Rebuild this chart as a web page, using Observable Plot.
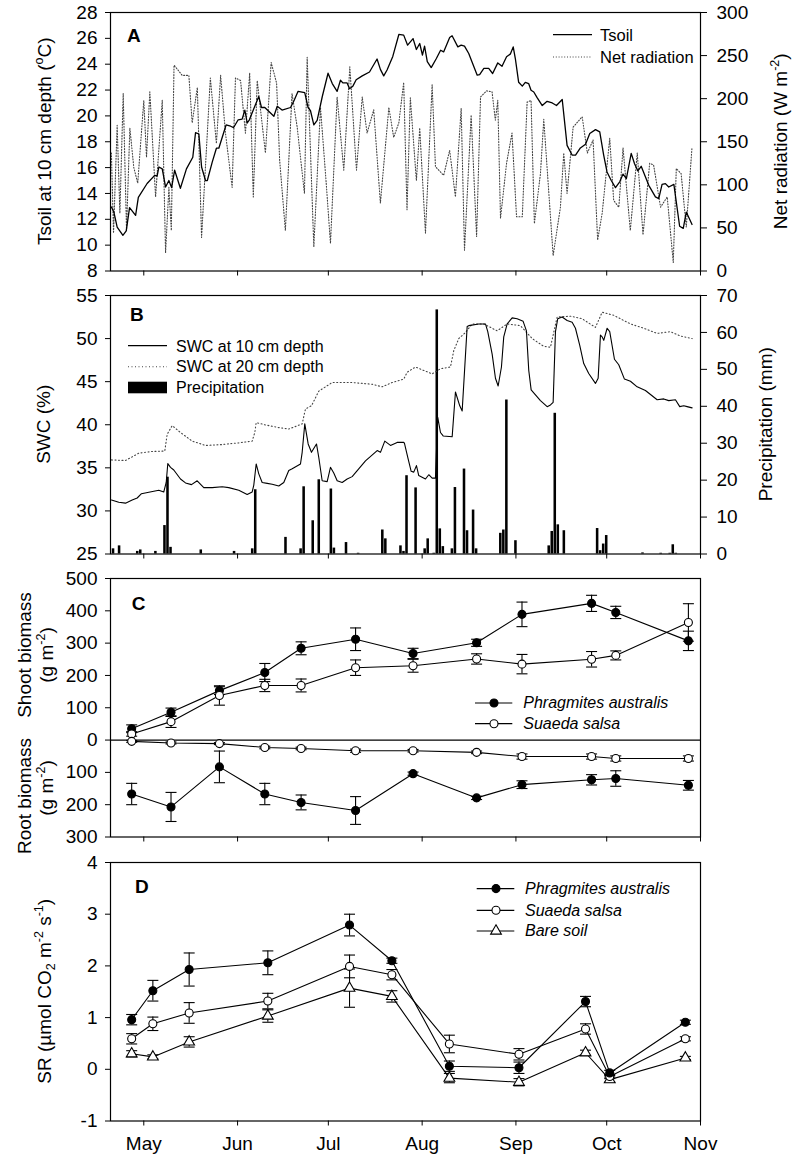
<!DOCTYPE html>
<html><head><meta charset="utf-8">
<script src="https://cdn.jsdelivr.net/npm/d3@7"></script>
<script src="https://cdn.jsdelivr.net/npm/@observablehq/plot@0.6"></script>
<style>
body{margin:0;background:#fff;}
#chart{position:relative;width:795px;height:1160px;background:#fff;}
</style></head><body><div id="chart"></div>
<script>
// ---------- DATA (day of year 2011) ----------
const tsoilDay = [110.3,111.1,112.2,114.1,115.2,116.3,118.3,119.2,122.1,124.6,125.4,126.0,127.1,128.2,129.3,130.2,131.2,133.1,135.1,137.2,138.1,139.2,140.1,141.4,142.0,143.6,145.0,145.8,148.2,149.7,150.7,152.2,153.5,154.4,155.2,155.9,159.0,159.9,161.0,164.0,165.1,166.7,169.5,170.6,172.0,174.2,175.3,176.1,177.2,178.3,180.0,181.9,183.3,184.9,186.0,186.8,188.2,189.0,190.1,191.2,193.2,195.6,198.1,199.2,200.3,201.4,203.3,205.3,206.9,208.2,210.0,211.1,212.2,213.1,213.8,214.7,216.0,217.7,219.1,220.1,222.1,222.9,224.8,225.9,227.0,228.4,231.2,232.0,233.4,235.0,236.3,238.0,239.4,240.9,242.2,243.1,243.8,244.9,246.1,247.1,248.2,249.0,249.9,251.0,252.7,254.3,256.0,257.4,259.3,260.9,262.6,263.7,265.3,267.0,268.4,270.3,271.7,273.0,274.1,275.5,276.9,278.3,279.4,280.5,282.1,283.2,284.3,285.4,287.9,290.1,291.2,292.3,293.4,294.5,296.2,298.1,299.3,300.3,302.2];
const tsoilVal = [12.95,12.57,11.4,10.76,11.1,12.9,12.3,13.7,14.77,15.4,15.35,16.05,15.9,14.5,15.0,14.45,15.8,14.4,15.9,16.8,18.7,18.6,16.05,15.0,15.0,16.4,17.5,17.5,19.3,19.2,19.1,19.7,19.75,20.45,19.45,19.7,21.5,20.65,20.65,19.97,20.75,20.45,20.65,21.15,21.9,21.8,20.65,20.4,19.3,19.66,21.5,23.3,22.5,21.9,22.76,22.55,22.55,22.1,22.3,22.8,23.1,23.4,24.4,23.6,23.1,23.55,24.6,26.3,26.25,25.47,25.98,25.14,25.6,24.7,25.4,24.2,23.74,24.44,25.08,24.95,26.07,26.2,25.34,25.47,25.4,24.83,23.15,23.2,23.67,23.67,23.28,24.1,23.84,24.57,24.8,25.34,24.44,22.6,22.3,22.6,22.5,21.98,21.85,21.42,20.8,21.13,21.0,20.8,21.27,17.72,16.96,16.96,17.52,17.8,18.64,18.94,18.76,16.96,15.66,15.0,14.45,14.9,15.5,15.15,17.1,16.3,15.74,16.1,14.63,13.73,13.6,14.7,14.76,14.5,14.7,11.46,11.3,12.56,11.6];

const netDay = [110.3,111.0,112.2,113.1,114.2,115.3,116.4,117.7,119.0,121.0,121.9,123.0,124.9,127.1,128.2,129.3,130.1,131.0,133.7,135.9,137.0,138.7,140.1,143.0,145.0,146.4,148.0,150.2,151.3,153.0,154.6,156.0,157.2,158.5,161.2,163.1,164.9,165.9,167.8,170.0,171.7,174.1,175.0,177.2,179.4,181.4,182.7,184.9,187.1,189.1,191.3,193.2,194.8,197.0,199.2,202.0,203.6,205.3,206.9,208.0,209.1,211.1,212.2,214.1,216.3,217.4,220.1,222.1,224.0,225.9,227.0,229.2,231.0,232.3,234.3,236.1,237.2,238.0,238.9,240.9,242.7,244.2,246.1,247.7,249.0,250.1,252.1,253.2,256.3,258.7,259.8,260.9,262.9,265.9,267.6,269.5,271.0,272.5,275.0,276.3,278.0,279.4,281.8,284.1,286.0,288.2,289.5,291.8,294.0,296.0,297.0,298.6,300.3,302.2];
const netVal = [137,44,169,67,206,47,166,120,102,198,132,208,86,198,21,97,47,239,227,227,172,213,39,224,148,227,160,97,224,221,160,230,86,221,137,242,218,129,47,206,167,90,248,28,190,97,32,202,117,237,117,202,160,187,79,190,155,172,219,71,201,105,166,44,216,121,111,140,86,189,24,181,40,202,209,208,175,198,61,125,160,63,63,196,198,55,113,176,18,74,137,90,167,179,137,152,36,67,154,82,74,143,47,137,42,125,123,74,86,10,119,113,51,144];

const swc10Day = [110.33,112.74,114.96,117.17,118.82,120.24,122.66,125.96,127.61,128.41,128.94,129.83,130.92,133.13,134.79,136.77,138.65,140.83,143.61,146.91,149.09,152.4,155.18,156.83,157.36,158.15,159.01,160.13,161.79,163.44,165.62,167.27,168.92,170.05,172.79,173.35,174.21,175.33,176.42,178.08,178.84,179.96,181.61,182.7,183.79,184.92,186.57,188.22,189.87,194.27,198.14,199.23,200.65,202.53,204.74,206.93,207.16,208.25,209.37,210.23,211.12,211.88,214.1,215.19,216.31,217.4,218.16,219.06,219.95,222.92,224.01,225.43,226.23,227.88,228.41,231.71,233.93,234.69,236.14,237.23,238.12,239.21,239.97,241.1,242.75,244.4,246.38,247.47,248.24,249.03,252.1,254.32,255.41,256.3,257.06,257.82,259.27,260.92,262.58,263.67,265.09,266.41,268.06,270.28,271.17,271.93,272.49,273.02,274.14,275.0,276.56,277.98,279.86,281.85,284.06,286.8,290.67,292.85,294.5,296.72,298.14,299.46,300.58,302.23];
const swc10Val = [31.27,31.0,30.9,31.27,31.5,32.0,32.17,32.4,32.2,33.3,35.5,35.06,34.75,33.7,33.25,33.05,33.5,32.7,32.7,32.8,32.7,32.4,31.9,32.2,33.0,35.45,34.3,33.3,33.2,33.1,32.9,33.3,34.7,34.9,35.45,36.8,40.1,37.77,36.8,37.77,36.2,33.5,33.4,35.06,34.4,33.5,33.3,33.7,33.98,35.8,37.0,36.8,38.1,37.6,37.95,37.95,37.84,36.2,34.6,34.5,35.26,34.1,33.7,34.2,33.8,33.8,40.86,39.1,38.7,38.6,43.8,42.2,41.6,51.4,51.5,51.7,51.7,50.8,48.2,45.4,44.5,46.7,50.2,51.7,52.4,52.3,52.0,50.9,46.3,44.05,42.8,42.1,42.3,42.6,50.8,52.3,52.5,52.1,51.9,51.2,49.2,47.1,45.95,44.8,45.4,50.4,50.2,49.8,51.2,50.8,47.6,46.96,45.3,45.05,44.4,43.97,42.9,43.0,42.8,42.9,42.1,42.2,42.1,41.96];

const swc20Day = [110.33,114.96,119.35,123.78,127.94,128.74,130.39,133.13,137.0,141.39,146.91,152.4,156.83,157.69,158.15,161.22,165.62,168.92,173.35,174.44,176.42,178.84,183.27,189.87,196.48,199.79,203.09,206.93,208.05,210.79,213.54,216.31,219.06,222.36,223.45,225.1,227.32,229.53,233.37,237.79,241.1,245.49,249.36,253.19,255.41,257.62,262.02,265.88,270.28,272.49,276.33,281.85,286.24,290.67,295.07,298.37,302.23];
const swc20Val = [35.92,35.85,36.7,36.9,36.95,38.9,39.9,39.1,38.1,37.6,37.7,37.9,38.1,39.1,40.25,39.98,39.67,39.5,40.1,41.84,42.2,43.9,44.9,44.9,44.7,44.4,44.9,45.3,46.1,46.7,46.3,45.9,46.5,46.7,48.6,50.0,50.7,51.7,51.7,50.9,51.7,51.5,50.0,49.1,49.0,52.5,52.6,52.3,51.3,53.06,52.7,51.7,51.2,50.6,50.8,50.3,50.0];

const precipDay = [111,113,119,120,125,128,129,130,140,151,157,158,168,173,174,177,179,183,184,188,192,200,201,206,207,208,211,214,215,217,218,219,220,223,224,227,228,230,231,239,240,241,244,255,256,257,258,260,271,272,273,274,286,292,295,296,297];
const precipVal = [1.4,2.2,0.7,1.1,0.7,7.7,20.8,1.8,1.1,0.7,1.4,17.4,4.5,1.4,18.2,9.0,20.1,17.6,1.6,3.1,0.2,6.5,4.1,2.2,0.7,21.2,17.9,1.4,4.1,0.2,66.1,6.8,2.0,1.4,18.0,23.0,6.3,11.9,1.4,5.6,6.5,41.7,3.6,2.2,6.1,38.1,7.9,6.3,6.9,0.9,2.7,5.0,0.3,0.2,0.2,2.5,0.2];

const bioDay = [117,130,146,161,173,191,210,231,246,269,277,301];
const paShoot = [35,86,153,209,284,312,268,301,389,423,395,307];
const paShootErr = [12,13,12,28,20,35,16,11,38,25,19,30];
const ssShoot = [19,57,138,169,169,224,230,251,235,250,262,364];
const ssShootErr = [7,18,30,19,20,24,20,16,30,24,14,58];
const paRoot = [167,207,83,167,193,218,104,179,138,123,119,140];
const paRootErr = [33,45,49,33,23,43,5,5,12,16,24,15];
const ssRoot = [4,9,11,23,26,33,33,38,51,51,57,57];
const ssRootErr = [3,3,3,4,4,5,4,4,8,8,8,8];

const srDay = [117,124,136,162,189,203,222,245,267,275,300];
const paSR = [0.96,1.52,1.93,2.06,2.79,2.10,0.06,0.03,1.31,-0.07,0.91];
const paSRErr = [0.1,0.2,0.32,0.23,0.21,0.05,0.1,0.11,0.1,0.05,0.04];
const ssSR = [0.59,0.88,1.09,1.32,1.99,1.83,0.49,0.29,0.78,-0.14,0.59];
const ssSRErr = [0.1,0.13,0.2,0.15,0.22,0.1,0.17,0.11,0.1,0.04,0.04];
const bareSR = [0.30,0.24,0.53,1.03,1.57,1.41,-0.17,-0.25,0.32,-0.20,0.22];
const bareSRErr = [0.06,0.04,0.1,0.12,0.37,0.11,0.09,0.07,0.05,0.05,0.03];

const tsoilTicks = [8,10,12,14,16,18,20,22,24,26,28];
const netTicks = [0,50,100,150,200,250,300];
const swcTicks = [25,30,35,40,45,50,55];
const precipTicks = [0,10,20,30,40,50,60,70];
const bioTicks = [-300,-200,-100,0,100,200,300,400,500];
const srTicks = [-1,0,1,2,3,4];
const monthLabels = ["May","Jun","Jul","Aug","Sep","Oct","Nov"];

// ---------- helpers ----------
const FONT = '"Liberation Sans", Arial, Helvetica, sans-serif';
const day = d => new Date(Date.UTC(2011, 0, 1) + (d - 1) * 864e5);
const xDomain = [day(110), day(305)];
const monthTicks = d3.utcMonth.range(day(121), day(306));
const W = 795, ML = 110, MR = 95, MT = 12, PH = 258.5;
const tops = [0.3, 283, 566.3, 849.7];
const chart = document.getElementById("chart");
const series = (days, vals, errs) => days.map((d, i) => ({date: day(d), v: vals[i], e: errs ? errs[i] : 0}));
const cap = {draw(ctx) { ctx.moveTo(-5.5, 0); ctx.lineTo(5.5, 0); }};
const plain = d => String(d);

function panel(top, mb, opts) {
  const svg = Plot.plot({
    width: W, height: MT + PH + mb, marginLeft: ML, marginRight: MR, marginTop: MT, marginBottom: mb,
    style: {fontFamily: FONT, fontSize: "19px", background: "none", color: "black", overflow: "visible"},
    ...opts
  });
  svg.style.position = "absolute"; svg.style.top = top + "px"; svg.style.left = "0px";
  chart.appendChild(svg);
  return svg;
}
function txt(svg, x, y, parts, o = {}) {
  const size = o.size || 19;
  const t = d3.select(svg).append("text")
    .attr("font-family", FONT).attr("font-size", size).attr("fill", "black")
    .attr("text-anchor", o.anchor || "middle")
    .attr("font-weight", o.bold ? "bold" : "normal")
    .attr("font-style", o.italic ? "italic" : "normal")
    .attr("transform", `translate(${x},${y})` + (o.rotate ? " rotate(-90)" : ""));
  let shift = 0;
  for (const p of (typeof parts === "string" ? [[parts, "n"]] : parts)) {
    const target = p[1] === "sup" ? -size * 0.42 : p[1] === "sub" ? size * 0.22 : 0;
    const ts = t.append("tspan").attr("dy", target - shift).text(p[0]);
    if (p[1] !== "n") ts.attr("font-size", size * 0.66);
    shift = target;
  }
  return t;
}
function legLine(svg, x1, x2, y, dash) {
  const l = d3.select(svg).append("line").attr("x1", x1).attr("x2", x2).attr("y1", y).attr("y2", y)
    .attr("stroke", "black").attr("stroke-width", dash ? 1.1 : 1.2);
  if (dash) l.attr("stroke-dasharray", dash).attr("stroke", "#444");
}
function legMark(svg, x, y, type, fill) {
  const sym = type === "triangle" ? d3.symbolTriangle : d3.symbolCircle;
  d3.select(svg).append("path").attr("d", d3.symbol(sym, 16 * Math.PI)()).attr("transform", `translate(${x},${y})`)
    .attr("fill", fill).attr("stroke", "black").attr("stroke-width", 1.1);
}
const xOpt = {type: "utc", domain: xDomain};
const monthFmt = d => monthLabels[d.getUTCMonth() - 4];
const xAxisPlain = () => Plot.axisX({ticks: monthTicks, tickSize: 5, tickFormat: () => "", label: null});
const frame = () => Plot.frame({stroke: "black", strokeWidth: 1.2});
function errMarks(data, fill, symbol) {
  return [
    Plot.ruleX(data, {x: "date", y1: d => d.v - d.e, y2: d => d.v + d.e, stroke: "black", strokeWidth: 1.1}),
    Plot.dot(data, {x: "date", y: d => d.v + d.e, symbol: cap, fill: "none", stroke: "black", strokeWidth: 1.1}),
    Plot.dot(data, {x: "date", y: d => d.v - d.e, symbol: cap, fill: "none", stroke: "black", strokeWidth: 1.1}),
    Plot.line(data, {x: "date", y: "v", stroke: "black", strokeWidth: 1.1}),
    Plot.dot(data, {x: "date", y: "v", r: 4, symbol: symbol || "circle", fill, stroke: "black", strokeWidth: 1.1})
  ];
}

// ---------- Panel A ----------
const tsoil = series(tsoilDay, tsoilVal);
const netRad = series(netDay, netVal);
panel(tops[0], 12, {
  x: {...xOpt, axis: null}, y: {domain: [0, 300]},
  marks: [
    Plot.line(netRad, {x: "date", y: "v", stroke: "#444", strokeWidth: 1.1, strokeDasharray: "1,1.8"}),
    Plot.axisY({anchor: "right", ticks: netTicks, tickSize: 6, tickPadding: 10, tickFormat: plain, label: null})
  ]
});
const svgA = panel(tops[0], 12, {
  x: xOpt, y: {domain: [8, 28]},
  marks: [
    Plot.line(tsoil, {x: "date", y: "v", stroke: "black", strokeWidth: 1.3}),
    xAxisPlain(),
    Plot.axisY({ticks: tsoilTicks, tickSize: 5, tickPadding: 8, tickFormat: plain, label: null}),
    frame()
  ]
});
txt(svgA, 127, 42.4, "A", {anchor: "start", bold: true});
txt(svgA, 51, MT + PH / 2, [["Tsoil at 10 cm depth (", "n"], ["o", "sup"], ["C)", "n"]], {rotate: true});
txt(svgA, 787, MT + PH / 2, [["Net radiation (W m", "n"], ["-2", "sup"], [")", "n"]], {rotate: true});
legLine(svgA, 553, 592, 34.7);
txt(svgA, 600, 40.5, "Tsoil", {anchor: "start", size: 16.5});
legLine(svgA, 553, 592, 57, "1,1.8");
txt(svgA, 600, 62.5, "Net radiation", {anchor: "start", size: 16.5});

// ---------- Panel B ----------
const precip = precipDay.map((d, i) => ({d, v: precipVal[i]}));
panel(tops[1], 12, {
  x: {...xOpt, axis: null}, y: {domain: [0, 70]},
  marks: [
    Plot.rectY(precip, {x1: d => day(d.d - 0.42), x2: d => day(d.d + 0.42), y: "v", fill: "black"}),
    Plot.axisY({anchor: "right", ticks: precipTicks, tickSize: 6, tickPadding: 10, tickFormat: plain, label: null})
  ]
});
const svgB = panel(tops[1], 12, {
  x: xOpt, y: {domain: [25, 55]},
  marks: [
    Plot.line(series(swc20Day, swc20Val), {x: "date", y: "v", stroke: "#444", strokeWidth: 1.1, strokeDasharray: "1,2.5"}),
    Plot.line(series(swc10Day, swc10Val), {x: "date", y: "v", stroke: "black", strokeWidth: 1.1}),
    xAxisPlain(),
    Plot.axisY({ticks: swcTicks, tickSize: 5, tickPadding: 8, tickFormat: plain, label: null}),
    frame()
  ]
});
txt(svgB, 130, 37.7, "B", {anchor: "start", bold: true});
txt(svgB, 50, MT + PH / 2, "SWC (%)", {rotate: true});
txt(svgB, 772, MT + PH / 2, "Precipitation (mm)", {rotate: true});
legLine(svgB, 128, 167, 62.7);
txt(svgB, 176, 68.5, "SWC at 10 cm depth", {anchor: "start", size: 16});
legLine(svgB, 128, 167, 83.7, "1,2.5");
txt(svgB, 176, 89.2, "SWC at 20 cm depth", {anchor: "start", size: 16});
d3.select(svgB).append("rect").attr("x", 128).attr("y", 98.7).attr("width", 39).attr("height", 11.6).attr("fill", "black");
txt(svgB, 176, 109.8, "Precipitation", {anchor: "start", size: 16});

// ---------- Panel C ----------
const paS = series(bioDay, paShoot, paShootErr);
const ssS = series(bioDay, ssShoot, ssShootErr);
const paR = series(bioDay, paRoot.map(v => -v), paRootErr);
const ssR = series(bioDay, ssRoot.map(v => -v), ssRootErr);
const svgC = panel(tops[2], 12, {
  x: xOpt, y: {domain: [-300, 500]},
  marks: [
    Plot.ruleY([0], {stroke: "black", strokeWidth: 1.2}),
    ...errMarks(paS, "black"), ...errMarks(ssS, "white"),
    ...errMarks(ssR, "white"), ...errMarks(paR, "black"),
    xAxisPlain(),
    Plot.axisY({ticks: bioTicks, tickSize: 5, tickPadding: 8, tickFormat: d => String(Math.abs(d)), label: null}),
    frame()
  ]
});
txt(svgC, 131.7, 43.7, "C", {anchor: "start", bold: true});
txt(svgC, 31, 89, "Shoot biomass", {rotate: true});
txt(svgC, 53, 89, [["(g m", "n"], ["-2", "sup"], [")", "n"]], {rotate: true});
txt(svgC, 31, 230, "Root biomass", {rotate: true});
txt(svgC, 53, 222, [["(g m", "n"], ["-2", "sup"], [")", "n"]], {rotate: true});
legLine(svgC, 475, 512.3, 137); legMark(svgC, 494, 137, "circle", "black");
txt(svgC, 523.3, 142.3, "Phragmites australis", {anchor: "start", size: 16, italic: true});
legLine(svgC, 475, 512.3, 157.7); legMark(svgC, 494, 157.7, "circle", "white");
txt(svgC, 523.3, 163, "Suaeda salsa", {anchor: "start", size: 16, italic: true});

// ---------- Panel D ----------
const paD = series(srDay, paSR, paSRErr);
const ssD = series(srDay, ssSR, ssSRErr);
const bsD = series(srDay, bareSR, bareSRErr);
const svgD = panel(tops[3], 39, {
  x: xOpt, y: {domain: [-1, 4]},
  marks: [
    ...errMarks(bsD, "white", "triangle"), ...errMarks(ssD, "white"), ...errMarks(paD, "black"),
    Plot.axisX({ticks: monthTicks, tickSize: 5, tickPadding: 10, tickFormat: monthFmt, label: null}),
    Plot.axisY({ticks: srTicks, tickSize: 5, tickPadding: 8, tickFormat: plain, label: null}),
    frame()
  ]
});
txt(svgD, 135, 43, "D", {anchor: "start", bold: true});
txt(svgD, 51, MT + PH / 2, [["SR (\u00b5mol CO", "n"], ["2", "sub"], [" m", "n"], ["-2", "sup"], [" s", "n"], ["-1", "sup"], [")", "n"]], {rotate: true});
legLine(svgD, 476.7, 514.3, 38.6); legMark(svgD, 496, 38.6, "circle", "black");
txt(svgD, 525, 44, "Phragmites australis", {anchor: "start", size: 16, italic: true});
legLine(svgD, 476.7, 514.3, 60.3); legMark(svgD, 496, 60.3, "circle", "white");
txt(svgD, 525, 65.7, "Suaeda salsa", {anchor: "start", size: 16, italic: true});
legLine(svgD, 476.7, 514.3, 81); legMark(svgD, 496, 81, "triangle", "white");
txt(svgD, 525, 86.4, "Bare soil", {anchor: "start", size: 16, italic: true});
</script></body></html>
